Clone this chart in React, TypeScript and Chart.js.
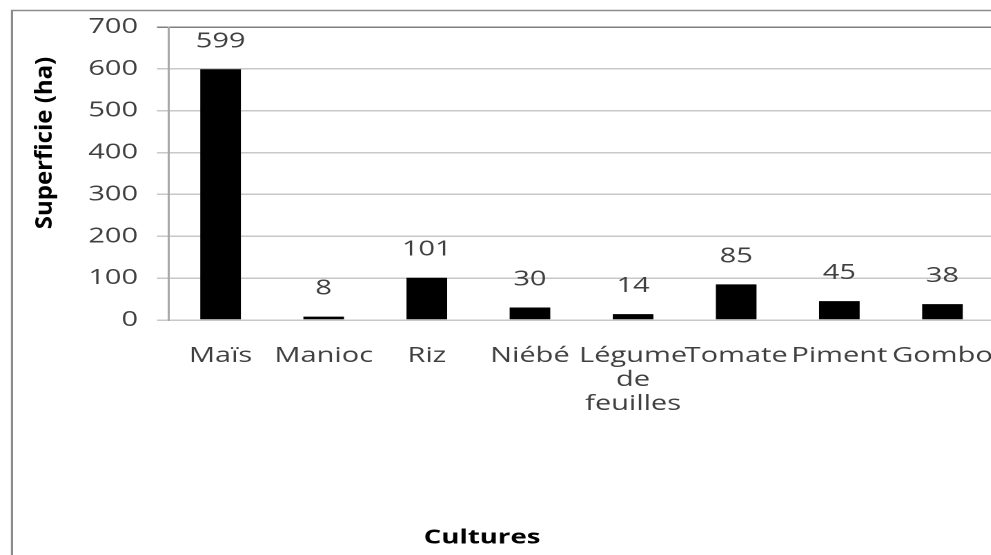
import React, { useEffect, useRef } from 'react';
import { Chart, registerables } from 'chart.js';

Chart.register(...registerables);

// ---- data ----
const categories: string[] = ['Maïs', 'Manioc', 'Riz', 'Niébé', 'Légume de feuilles', 'Tomate', 'Piment', 'Gombo'];
const values: number[] = [599, 8, 101, 30, 14, 85, 45, 38];
const yMin = 0;
const yMax = 700;
const yStep = 100;
const xTitle = 'Cultures';
const yTitle = 'Superficie (ha)';

// ---- layout (internal canvas units; the canvas is stretched horizontally) ----
const SX = 1.38;
const W = 722;
const H = 555;
const FONT = "'Open Sans', 'Noto Sans', sans-serif";
const TEXT = '#404040';

const decorPlugin = {
  id: 'decor',
  beforeDraw(chart: any) {
    const ctx = chart.ctx;
    ctx.save();
    ctx.fillStyle = '#ffffff';
    ctx.fillRect(0, 0, chart.width, chart.height);
    ctx.strokeStyle = '#8c8c8c';
    ctx.lineWidth = 1.6;
    ctx.beginPath();
    ctx.moveTo(12 / SX, chart.height + 5);
    ctx.lineTo(12 / SX, 10.5);
    ctx.lineTo(chart.width + 5, 10.5);
    ctx.stroke();
    ctx.restore();
  },
  afterDatasetsDraw(chart: any) {
    const ctx = chart.ctx;
    const meta = chart.getDatasetMeta(0);
    ctx.save();
    ctx.fillStyle = TEXT;
    ctx.font = `21px ${FONT}`;
    ctx.textAlign = 'center';
    ctx.textBaseline = 'middle';
    meta.data.forEach((el: any, i: number) => {
      ctx.fillText(String(values[i]), el.x, el.y - 28);
    });
    ctx.restore();
  },
  afterDraw(chart: any) {
    const ctx = chart.ctx;
    ctx.save();
    ctx.fillStyle = '#000000';
    ctx.textAlign = 'center';
    ctx.textBaseline = 'middle';
    // x axis title
    ctx.font = `bold 20px ${FONT}`;
    ctx.fillText(xTitle, 482 / SX, 538);
    // y axis title
    ctx.translate(45 / SX, 143);
    ctx.rotate(-Math.PI / 2);
    ctx.scale(1, 0.72);
    ctx.font = `bold 24px ${FONT}`;
    ctx.fillText(yTitle, 0, 0);
    ctx.restore();
  },
};

export default function App() {
  const ref = useRef<HTMLCanvasElement | null>(null);

  useEffect(() => {
    if (!ref.current) return;
    const chart = new Chart(ref.current, {
      type: 'bar',
      data: {
        labels: categories.map((c) => (c.includes(' ') ? c.split(' ') : c)),
        datasets: [
          {
            data: values,
            backgroundColor: '#000000',
            borderColor: '#000000',
            borderWidth: 0,
            barPercentage: 0.394,
            categoryPercentage: 1,
          },
        ],
      },
      plugins: [decorPlugin],
      options: {
        animation: false,
        responsive: false,
        devicePixelRatio: 2,
        layout: { padding: { top: 27, right: 1.7, left: 0, bottom: 0 } },
        plugins: {
          legend: { display: false },
          tooltip: { enabled: false },
          title: { display: false },
        },
        scales: {
          x: {
            grid: { display: false, drawTicks: false },
            border: { display: false },
            ticks: {
              autoSkip: false,
              maxRotation: 0,
              minRotation: 0,
              padding: 24,
              color: TEXT,
              font: { family: FONT, size: 21, lineHeight: 24 / 21 },
            },
            afterFit: (scale: any) => {
              scale.height = 235;
              scale.paddingLeft = 0;
              scale.paddingRight = 0;
            },
          },
          y: {
            min: yMin,
            max: yMax,
            ticks: {
              stepSize: yStep,
              padding: 13.8,
              color: TEXT,
              font: { family: FONT, size: 21 },
            },
            grid: {
              tickLength: 8.7,
              lineWidth: 1.5,
              color: (c: any) => (c.tick && c.tick.value === yMax ? '#7f7f7f' : '#c8c8c8'),
            },
            border: { display: true, color: '#a8a8a8', width: 1.5 },
            afterFit: (scale: any) => {
              scale.width = 169 / SX;
              scale.paddingTop = 0;
              scale.paddingBottom = 0;
            },
          },
        },
      },
    });
    return () => chart.destroy();
  }, []);

  return (
    <div
      style={{
        position: 'absolute',
        left: 0,
        top: 0,
        width: 991,
        height: 555,
        overflow: 'hidden',
        background: '#ffffff',
      }}
    >
      <div style={{ width: W, height: H, transform: `scaleX(${SX})`, transformOrigin: '0 0' }}>
        <canvas ref={ref} width={W} height={H} style={{ width: W, height: H, display: 'block' }} />
      </div>
    </div>
  );
}
